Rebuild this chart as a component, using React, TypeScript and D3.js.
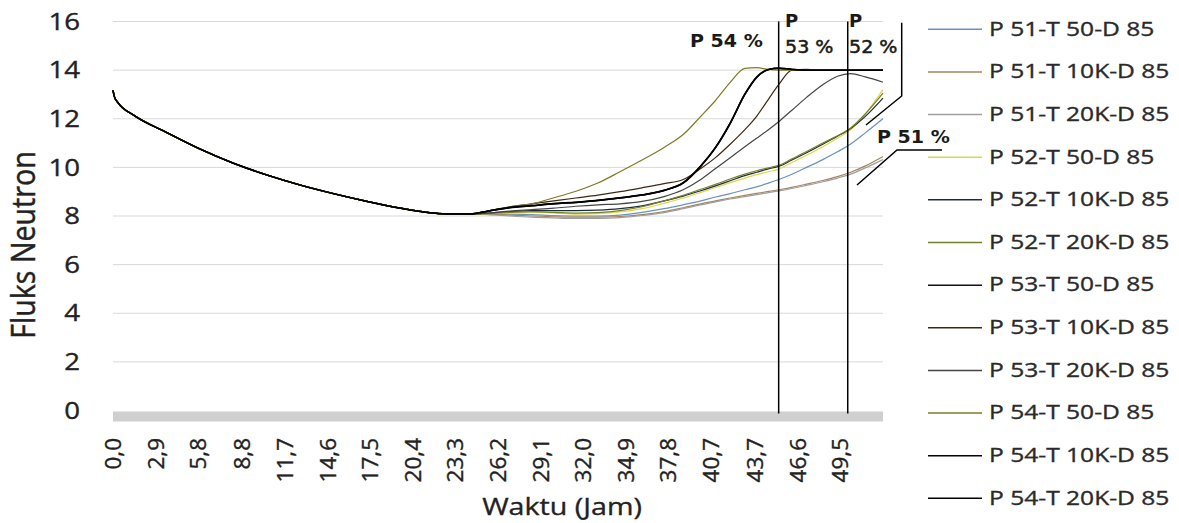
import React from "react";
import * as d3 from "d3";

const W = 1179;
const H = 523;

// common descending part (hours, flux)
const HEAD_T = [0, 0.1, 0.35, 1.4, 3.7, 5.9, 8.2, 10.5, 12.7, 15.0, 17.3, 19.5, 21.8, 22.9, 24.3];
const HEAD_V = [13.17, 12.9, 12.65, 12.15, 11.42, 10.76, 10.17, 9.68, 9.28, 8.92, 8.6, 8.33, 8.12, 8.08, 8.08];

// time grid of the diverging part
const TAIL_T = [25.5, 27, 28.5, 30, 31.5, 33, 34.5, 36, 37.5, 38.8, 40, 41, 42, 43, 43.8, 44.6, 45.3, 46.2, 47.2, 48.3, 49.3, 50.2, 51.2, 52.4];

const P51_T50 = [8.08, 8.08, 8.06, 8.02, 8.0, 8.0, 8.04, 8.15, 8.3, 8.46, 8.62, 8.78, 8.92, 9.08, 9.2, 9.35, 9.5, 9.72, 10.0, 10.32, 10.64, 10.96, 11.42, 12.0];
const P51_T10K = [8.08, 8.04, 8.0, 7.97, 7.95, 7.95, 7.98, 8.06, 8.18, 8.34, 8.5, 8.62, 8.74, 8.85, 8.93, 9.01, 9.08, 9.18, 9.31, 9.46, 9.62, 9.8, 10.06, 10.45];
const P51_T20K = [8.06, 8.0, 7.95, 7.92, 7.9, 7.9, 7.93, 8.02, 8.14, 8.3, 8.46, 8.58, 8.7, 8.8, 8.88, 8.96, 9.03, 9.13, 9.26, 9.41, 9.56, 9.72, 9.98, 10.32];
const P52_T50 = [8.1, 8.14, 8.16, 8.12, 8.08, 8.1, 8.17, 8.3, 8.52, 8.74, 8.97, 9.17, 9.37, 9.56, 9.7, 9.82, 9.93, 10.2, 10.5, 10.85, 11.2, 11.55, 12.2, 13.2];
const P52_T10K = [8.12, 8.18, 8.22, 8.22, 8.22, 8.24, 8.3, 8.42, 8.62, 8.82, 9.04, 9.24, 9.45, 9.66, 9.8, 9.94, 10.04, 10.3, 10.6, 10.95, 11.28, 11.6, 12.1, 12.85];
const P52_T20K = [8.1, 8.15, 8.18, 8.15, 8.12, 8.14, 8.22, 8.38, 8.62, 8.85, 9.1, 9.3, 9.52, 9.72, 9.86, 9.98, 10.08, 10.35, 10.65, 11.0, 11.3, 11.62, 12.2, 13.05];
const P53_T50 = [8.2, 8.34, 8.42, 8.5, 8.56, 8.64, 8.74, 8.86, 9.05, 9.36, 10.05, 10.82, 11.82, 13.0, 13.7, 14.02, 14.08, 14.03, 14.0, 14.0, 14.0, 14.0, 14.0, 14.0];
const P53_T10K = [8.2, 8.38, 8.5, 8.62, 8.74, 8.86, 9.0, 9.16, 9.33, 9.5, 9.95, 10.4, 10.95, 11.55, 12.1, 12.8, 13.4, 14.0, 14.03, 14.0, 14.0, 14.0, 14.0, 14.0];
const P53_T20K = [8.12, 8.2, 8.26, 8.32, 8.4, 8.46, 8.5, 8.6, 8.8, 9.08, 9.5, 9.95, 10.4, 10.85, 11.2, 11.55, 11.88, 12.35, 12.88, 13.4, 13.75, 13.86, 13.72, 13.5];
const P54_T50 = [8.2, 8.38, 8.5, 8.75, 9.02, 9.36, 9.82, 10.3, 10.82, 11.35, 12.1, 12.75, 13.5, 14.07, 14.1, 14.03, 14.0, 14.0, 14.0, 14.0, 14.0, 14.0, 14.0, 14.0];
const P54_T10K = [8.2, 8.35, 8.42, 8.5, 8.56, 8.64, 8.74, 8.86, 9.05, 9.35, 10.05, 10.8, 11.8, 13.0, 13.7, 14.02, 14.08, 14.03, 14.0, 14.0, 14.0, 14.0, 14.0, 14.0];
const P54_T20K = [8.2, 8.35, 8.43, 8.51, 8.57, 8.65, 8.75, 8.87, 9.06, 9.37, 10.07, 10.82, 11.82, 13.02, 13.72, 14.03, 14.08, 14.03, 14.0, 14.0, 14.0, 14.0, 14.0, 14.0];

const SERIES_NAMES = [
  "P 51-T 50-D 85", "P 51-T 10K-D 85", "P 51-T 20K-D 85",
  "P 52-T 50-D 85", "P 52-T 10K-D 85", "P 52-T 20K-D 85",
  "P 53-T 50-D 85", "P 53-T 10K-D 85", "P 53-T 20K-D 85",
  "P 54-T 50-D 85", "P 54-T 10K-D 85", "P 54-T 20K-D 85",
];
const SERIES_VALUES = [
  P51_T50, P51_T10K, P51_T20K,
  P52_T50, P52_T10K, P52_T20K,
  P53_T50, P53_T10K, P53_T20K,
  P54_T50, P54_T10K, P54_T20K,
];
const SERIES_COLORS = [
  "#6b93b8", "#a3855f", "#9e9e9e",
  "#ddd84a", "#1e2d3c", "#767f2a",
  "#111111", "#3d2a12", "#454545",
  "#7f7a26", "#050505", "#000000",
];

const X_TICKS = ["0,0", "2,9", "5,8", "8,8", "11,7", "14,6", "17,5", "20,4", "23,3", "26,2", "29,1", "32,0", "34,9", "37,8", "40,7", "43,7", "46,6", "49,5"];
const Y_TICKS = [0, 2, 4, 6, 8, 10, 12, 14, 16];

const MARK_T = [45.3, 50.0]; // vertical marker lines (hours)

const FONT = "'Open Sans', sans-serif";
const AFONT = "'DejaVu Sans', sans-serif";

function STxt(props: any) {
  const { x, y, sx = 1, sy = 1, rot = 0, anchor = "start", size, weight = "normal", family = FONT, fill = "#222", sw = 0.35, children } = props;
  return (
    <text
      transform={`translate(${x},${y}) rotate(${rot}) scale(${sx},${sy})`}
      textAnchor={anchor}
      fontSize={size}
      fontFamily={family}
      fontWeight={weight}
      fill={fill}
      stroke={sw > 0 ? fill : "none"}
      strokeWidth={sw}
    >
      {children}
    </text>
  );
}

export default function App() {
  const x = d3.scaleLinear().domain([0, 52.4]).range([113, 883]);
  const y = d3.scaleLinear().domain([0, 16]).range([410.5, 21.5]);

  const line = d3
    .line<[number, number]>()
    .x((d) => x(d[0]))
    .y((d) => y(d[1]))
    .curve(d3.curveMonotoneX);

  const series = SERIES_NAMES.map((name, i) => {
    const pts: [number, number][] = [];
    HEAD_T.forEach((t, j) => pts.push([t, HEAD_V[j]]));
    TAIL_T.forEach((t, j) => pts.push([t, SERIES_VALUES[i][j]]));
    return { name, color: SERIES_COLORS[i], pts };
  });

  const thick = (i: number) => (i >= 10 || i === 6 ? 1.5 : 1.2);

  const legendY = (i: number) => 29.3 + i * 42.64;

  return (
    <svg
      width={W}
      height={H}
      style={{ position: "absolute", left: 0, top: 0, background: "#fff" }}
    >
      <rect x={0} y={0} width={W} height={H} fill="#fff" />
      {/* gridlines */}
      {Y_TICKS.filter((v) => v > 0).map((v) => (
        <line key={v} x1={x(0)} x2={x(52.4)} y1={y(v)} y2={y(v)} stroke="#d9d9d9" strokeWidth={1} />
      ))}
      {/* axis band */}
      <rect x={x(0)} y={y(0) + 1} width={x(52.4) - x(0)} height={10} fill="#d0d0d0" />

      {/* y tick labels */}
      {Y_TICKS.map((v) => (
        <STxt key={v} x={80} y={y(v) + 8.2} sx={1.2} anchor="end" size={23}>
          {String(v)}
        </STxt>
      ))}
      {/* x tick labels */}
      {X_TICKS.map((lab) => {
        const t = parseFloat(lab.replace(",", "."));
        return (
          <STxt key={lab} x={x(t) + 8} y={438} rot={-90} anchor="end" size={22.5}>
            {lab}
          </STxt>
        );
      })}

      {/* axis titles */}
      <STxt x={35} y={245} rot={-90} sx={1.06} sy={1.2} anchor="middle" size={27}>
        Fluks Neutron
      </STxt>
      <STxt x={562} y={515} sx={1.17} anchor="middle" size={24.5}>
        Waktu (Jam)
      </STxt>

      {/* series */}
      {series.map((s, i) => (
        <path key={s.name} d={line(s.pts) || ""} fill="none" stroke={s.color} strokeWidth={thick(i)} strokeLinejoin="round" />
      ))}

      {/* marker lines */}
      {MARK_T.map((t) => (
        <line key={t} x1={x(t)} x2={x(t)} y1={y(16)} y2={y(0) + 3} stroke="#000" strokeWidth={1.5} />
      ))}

      {/* annotation brackets */}
      <polyline points="901.7,22.7 901.7,96 866,125" fill="none" stroke="#000" strokeWidth={1.5} />
      <polyline points="942,150 897,150 857,185" fill="none" stroke="#000" strokeWidth={1.5} />

      {/* annotations */}
      <STxt x={690} y={47} sx={1.06} size={18} weight="bold" family={AFONT} fill="#1a1a1a" sw={0}>P 54 %</STxt>
      <STxt x={785} y={27} sx={1.06} size={17} weight="bold" family={AFONT} fill="#1a1a1a" sw={0}>P</STxt>
      <STxt x={785} y={53} sx={1.06} size={18} family={AFONT} fill="#1a1a1a" sw={0.5}>53 %</STxt>
      <STxt x={849} y={27} sx={1.06} size={17} weight="bold" family={AFONT} fill="#1a1a1a" sw={0}>P</STxt>
      <STxt x={849} y={53} sx={1.06} size={18} family={AFONT} fill="#1a1a1a" sw={0.5}>52 %</STxt>
      <STxt x={877} y={143} sx={1.06} size={18} weight="bold" family={AFONT} fill="#1a1a1a" sw={0}>P 51 %</STxt>

      {/* legend */}
      {series.map((s, i) => (
        <g key={"lg" + s.name}>
          <line x1={928} x2={982} y1={legendY(i)} y2={legendY(i)} stroke={s.color} strokeWidth={1.5} />
          <STxt x={989} y={legendY(i) + 6.3} sx={1.26} size={19.5} fill="#2a2a2a">
            {s.name}
          </STxt>
        </g>
      ))}
    </svg>
  );
}
